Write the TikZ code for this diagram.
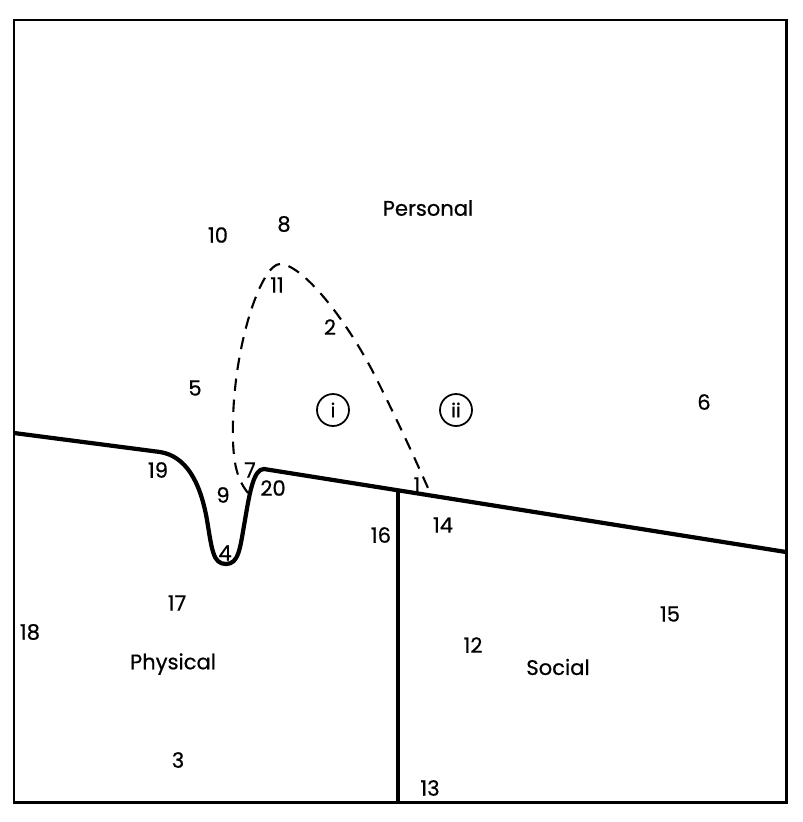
\documentclass[tikz,border=0pt]{standalone}
\usepackage{fontspec}
\setmainfont{Poppins}[FakeBold=0.6]
\usepackage{tikz}
\usetikzlibrary{positioning,calc}
\tikzset{
  frame/.style={line width=1.7pt},
  bound/.style={line width=2.4pt, line join=round},
  zone/.style={line width=1.2pt, dash pattern=on 7pt off 5pt},
  lab/.style={font=\fontsize{12}{14}\selectfont, inner sep=1pt},
  area/.style={font=\fontsize{12}{14}\selectfont, inner sep=1pt},
  circlab/.style={draw, circle, line width=1pt, minimum size=0.64cm, inner sep=0pt,
                  font=\fontsize{11}{13}\selectfont},
}

\begin{document}
\begin{tikzpicture}[x=0.02cm, y=-0.02cm]
  \useasboundingbox (0,0) rectangle (803,822);
  \draw[frame] (14,20) rectangle (786,802);

  % boundary between personal and the other two areas
  \coordinate (west) at (14,433);
  \coordinate (east) at (786,552);
  \coordinate (peak) at (264,469);
  \coordinate (fork) at (398,491);
  \coordinate (foot) at (398,802);
  \draw[bound] (west) -- (160,452)
    .. controls (185,456) and (200,480) .. (207,520)
    .. controls (212,550) and (213,564) .. (226,564)
    .. controls (239,564) and (240,548) .. (245,520)
    .. controls (250,490) and (254,469) .. (peak) -- (east);
  \draw[bound] (fork) -- (foot);

  % region (i)
  \draw[zone] (248,493) .. controls (236,478) and (232,460) .. (233,420)
    .. controls (235,340) and (262,264) .. (280,264)
    .. controls (300,264) and (340,310) .. (372,370)
    .. controls (400,425) and (420,470) .. (432,497);

  \node[area] (personal) at (428,208) {Personal};
  \node[area] (physical) at (173,664) {Physical};
  \node[area] (social) at (558,667) {Social};

  \node[circlab] (ri) at (333,410) {i};
  \node[circlab] (rii) at (456,410) {ii};

  \node[lab] (n1) at (417,485) {1};
  \node[lab] (n2) at (330,327) {2};
  \node[lab] (n3) at (178,760) {3};
  \node[lab] (n4) at (225,553) {4};
  \node[lab] (n5) at (195,388) {5};
  \node[lab] (n6) at (704,402) {6};
  \node[lab] (n7) at (250,470) {7};
  \node[lab] (n8) at (284,224) {8};
  \node[lab] (n9) at (223,495) {9};
  \node[lab] (n10) at (218,235) {10};
  \node[lab] (n11) at (277,285) {11};
  \node[lab] (n12) at (473,645) {12};
  \node[lab] (n13) at (430,788) {13};
  \node[lab] (n14) at (443,525) {14};
  \node[lab] (n15) at (670,614) {15};
  \node[lab] (n16) at (381,535) {16};
  \node[lab] (n17) at (177,603) {17};
  \node[lab] (n18) at (30,632) {18};
  \node[lab] (n19) at (158,470) {19};
  \node[lab] (n20) at (273,488) {20};
\end{tikzpicture}
\end{document}
